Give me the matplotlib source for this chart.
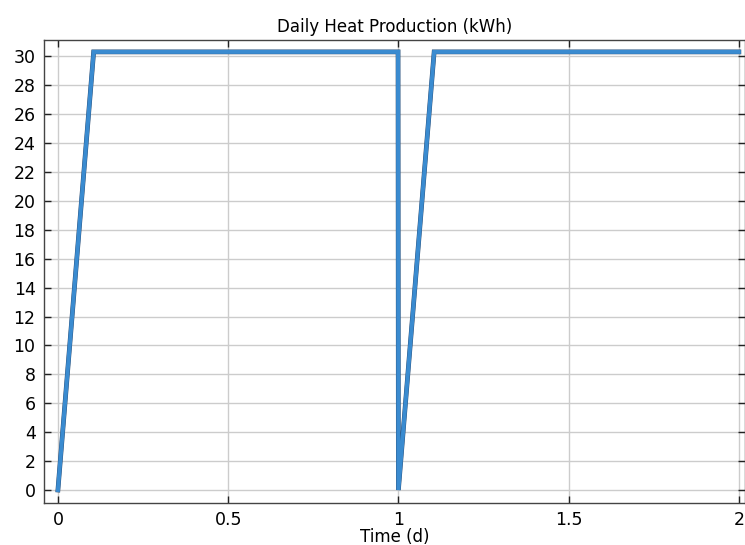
import matplotlib
matplotlib.use('Agg')
import matplotlib.pyplot as plt

# 일일 열 생산량 (kWh) — 그림에서 읽은 값
time_d = [0.0, 0.105, 0.999, 1.0, 1.105, 2.0]
heat_kwh = [0.0, 30.3, 30.3, 0.0, 30.3, 30.3]

xticks = [0, 0.5, 1, 1.5, 2]
xticklabels = ['0', '0.5', '1', '1.5', '2']
yticks = list(range(0, 31, 2))

plt.rcParams['font.family'] = ['DejaVu Sans']
fig = plt.figure(figsize=(7.45, 5.45), dpi=100)
ax = fig.add_axes([0.059, 0.077, 0.941, 0.849])

ax.plot(time_d, heat_kwh, color='#28486e', lw=3.4, solid_joinstyle='miter', zorder=3)
ax.plot(time_d, heat_kwh, color='#3a8bd0', lw=2.9, solid_joinstyle='miter', zorder=4)

ax.set_xlim(-0.041, 2.018)
ax.set_ylim(-0.9, 31.1)
ax.set_xticks(xticks)
ax.set_xticklabels(xticklabels)
ax.set_yticks(yticks)
ax.tick_params(direction='in', top=True, right=True, labelsize=12.5, length=5, width=1,
               color='#222222', pad=6)
ax.grid(True, color='#cccccc', lw=1.0)
ax.set_axisbelow(True)
for s in ax.spines.values():
    s.set_color('#444444'); s.set_linewidth(1.0)

ax.set_title('Daily Heat Production (kWh)', fontsize=12, pad=6)
ax.set_xlabel('Time (d)', fontsize=12, labelpad=-1)

fig.savefig('out.png', dpi=100)
